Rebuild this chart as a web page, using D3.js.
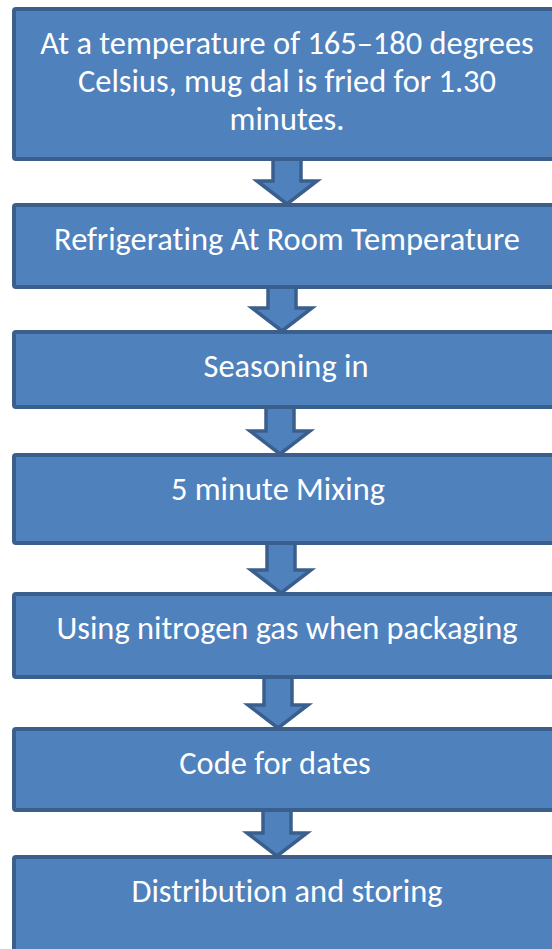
<!DOCTYPE html>
<html>
<head>
<meta charset="utf-8">
<script src="https://cdn.jsdelivr.net/npm/d3@7"></script>
<style>
  html, body { margin: 0; padding: 0; background: #fff; }
  svg { display: block; }
  text { font-variant-ligatures: none; font-feature-settings: "liga" 0, "clig" 0, "dlig" 0, "calt" 0; }
</style>
</head>
<body>
<script>
// process steps, top to bottom (each entry = lines of the box label)
const steps = [
    ['At a temperature of 165\u2013180 degrees', 'Celsius, mug dal is fried for 1.30', 'minutes.'],
    ['Refrigerating At Room Temperature'],
    ['Seasoning in'],
    ['5 minute Mixing'],
    ['Using nitrogen gas when packaging'],
    ['Code for dates'],
    ['Distribution and storing']
];

// layout (outer box edges, pixels)
const boxTop = [7, 203, 330, 453, 592, 727, 855];
const boxBottom = [161, 289, 409, 545, 679, 812, 960];
const textX = [287, 287, 286, 278, 287, 275, 287];
const arrowX = [287, 282, 280, 281, 278, 277];

const W = 552, H = 949;
const fill = '#4f81bd', edge = '#3b5f8d';
const boxLeft = 12, boxRight = 562, sw = 4;
const lineGap = 38, firstBase = 47;

const svg = d3.select('body').append('svg')
    .attr('width', W).attr('height', H);

// pick a font size so the text width matches the original
const font = "Carlito, 'Open Sans', sans-serif";
const probe = svg.append('text').attr('font-family', font).attr('font-size', 100)
    .text('Refrigerating At Room Temperature');
const fs = 100 * 466 / probe.node().getComputedTextLength();
probe.remove();

const boxes = svg.append('g');
steps.forEach((lines, i) => {
    const g = boxes.append('g');
    g.append('rect')
        .attr('x', boxLeft + sw / 2).attr('y', boxTop[i] + sw / 2)
        .attr('width', boxRight - boxLeft - sw).attr('height', boxBottom[i] - boxTop[i] - sw)
        .attr('rx', 2)
        .attr('fill', fill).attr('stroke', edge).attr('stroke-width', sw);
    const t = g.append('text')
        .attr('font-family', font).attr('font-size', fs)
        .attr('fill', '#fff').attr('text-anchor', 'middle');
    lines.forEach((s, j) => {
        t.append('tspan')
            .attr('x', textX[i])
            .attr('y', boxTop[i] + firstBase + j * lineGap)
            .text(s);
    });
});

// block arrows between boxes
const arrows = svg.append('g');
arrowX.forEach((cx, i) => {
    const y0 = boxBottom[i] - 2, y2 = boxTop[i + 1] + 1;
    const y1 = y2 - 23;
    const p = d3.path();
    p.moveTo(cx - 14, y0);
    p.lineTo(cx + 14, y0);
    p.lineTo(cx + 14, y1);
    p.lineTo(cx + 30, y1);
    p.lineTo(cx, y2);
    p.lineTo(cx - 30, y1);
    p.lineTo(cx - 14, y1);
    p.closePath();
    arrows.append('path').attr('d', p)
        .attr('fill', fill).attr('stroke', edge).attr('stroke-width', 3.5)
        .attr('stroke-linejoin', 'miter');
});
// boxes on top so the arrow ends sit under the box edges
boxes.raise();
</script>
</body>
</html>
